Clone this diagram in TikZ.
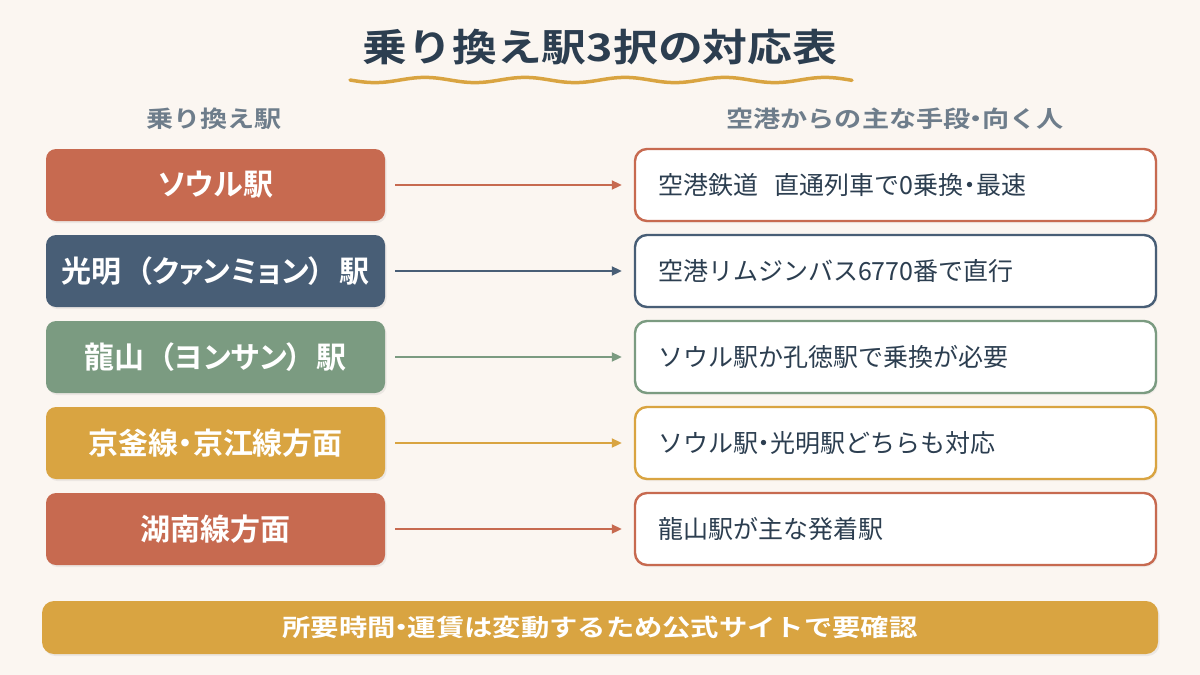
\documentclass[tikz,border=0pt]{standalone}
\usepackage{fontspec}
\setmainfont{Noto Sans CJK JP}
\newfontfamily\jpbold{Noto Sans CJK JP Bold}
\newfontfamily\jpboldp{Noto Sans CJK JP Bold}[RawFeature=+palt]
\newfontfamily\jpboldw{Noto Sans CJK JP Bold}[FakeStretch=1.18]
\newcommand\nd{\makebox[0.5em]{・}}
\newcommand\lp{\kern0.5em（}
\newcommand\rp{）\kern0.5em}
\usetikzlibrary{shadows,arrows.meta}
\definecolor{bgc}{HTML}{FBF6F1}
\definecolor{navytxt}{HTML}{2C3E50}
\definecolor{graytxt}{HTML}{6E7D8B}
\definecolor{cred}{HTML}{C76A50}
\definecolor{cnavy}{HTML}{485E76}
\definecolor{cgreen}{HTML}{7B9B81}
\definecolor{cgold}{HTML}{D9A441}
\tikzset{
  leftbox/.style={rounded corners=10pt, minimum width=339pt, minimum height=72pt, inner sep=0pt,
    text=white, font=\jpboldp\fontsize{30}{34}\selectfont,
    drop shadow={shadow xshift=1.5pt, shadow yshift=-2pt, opacity=0.12}},
  rightbox/.style={rounded corners=12pt, minimum width=521pt, minimum height=72pt, inner sep=0pt,
    fill=white, line width=2.4pt, text width=475pt, align=left, text=navytxt,
    font=\fontsize{25}{29}\selectfont,
    drop shadow={shadow xshift=1.5pt, shadow yshift=-2pt, opacity=0.08}},
  conn/.style={line width=2pt, -{Triangle[length=10pt,width=9pt]}},
  header/.style={text=graytxt, font=\jpboldw\fontsize{23}{27}\selectfont}
}
\begin{document}
\begin{tikzpicture}[x=1pt,y=-1pt]
\fill[bgc] (0,0) rectangle (1200,675);
\useasboundingbox (0,0) rectangle (1200,675);
\node[text=navytxt, font=\jpboldw\fontsize{38}{44}\selectfont] (title) at (600,47) {乗り換え駅3択の対応表};
\draw[cgold, line width=3.5pt, line cap=round] plot[domain=350:852, samples=150, smooth] (\x,{80+2.6*sin((\x-350)*3.6)});
\node[header] (hl) at (214,119) {乗り換え駅};
\node[header] (hr) at (895,119) {空港からの主な手段\nd 向く人};
\foreach \i/\y/\c/\lt/\rt in {
  1/185/cred/{ソウル駅}/{空港鉄道\ \ 直通列車で0乗換\nd 最速},
  2/271/cnavy/{光明\lp クァンミョン\rp 駅}/{空港リムジンバス6770番で直行},
  3/357/cgreen/{龍山\lp ヨンサン\rp 駅}/{ソウル駅か孔徳駅で乗換が必要},
  4/443/cgold/{京釜線\nd 京江線方面}/{ソウル駅\nd 光明駅どちらも対応},
  5/529/cred/{湖南線方面}/{龍山駅が主な発着駅}} {
  \node[leftbox, fill=\c] (l\i) at (215.5,\y) {\lt};
  \node[rightbox, draw=\c] (r\i) at (895.5,\y) {\rt};
  \draw[conn, \c] ([xshift=10pt]l\i.east) -- ([xshift=-12pt]r\i.west);
}
\node[rounded corners=12pt, fill=cgold, minimum width=1116pt, minimum height=53pt, inner sep=0pt,
  text=white, font=\jpboldw\fontsize{24}{28}\selectfont,
  drop shadow={shadow xshift=1.5pt, shadow yshift=-2pt, opacity=0.12}] (note) at (600,627.5)
  {所要時間\nd 運賃は変動するため公式サイトで要確認};
\end{tikzpicture}
\end{document}
